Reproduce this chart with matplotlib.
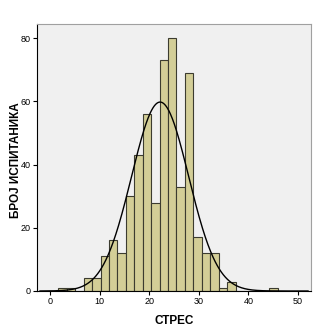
import numpy as np
from matplotlib import pyplot as plt

# histogram data
bin_start = 1.7
bin_width = 1.7
counts = [1, 1, 0, 4, 4, 11, 16, 12, 30, 43, 56, 28, 73, 80, 33, 69, 17, 12, 12, 1, 3, 0, 0, 0, 0, 1]
mean = 22.2
sd = 5.75
x_ticks = [0, 10, 20, 30, 40, 50]
y_ticks = [0, 20, 40, 60, 80]

plt.rcParams['font.family'] = ['Liberation Sans Narrow', 'Liberation Sans', 'DejaVu Sans']

fig = plt.figure(figsize=(3.34, 3.34), dpi=100)
ax = fig.add_axes([37/334, 43/334, 274/334, 267/334])
ax.set_facecolor('#f0f0f0')

edges = bin_start + bin_width * np.arange(len(counts) + 1)
ax.bar(edges[:-1], counts, width=bin_width, align='edge',
       color='#d3ce97', edgecolor='#3c3c30', linewidth=0.8)

# normal curve scaled to counts
n = sum(counts)
xs = np.linspace(-2, 52, 400)
ys = n * bin_width / (sd * np.sqrt(2 * np.pi)) * np.exp(-0.5 * ((xs - mean) / sd) ** 2)
ax.plot(xs, ys, color='black', linewidth=1)

ax.set_xlim(-2.6, 52.6)
ax.set_ylim(0, 84.5)
ax.set_xticks(x_ticks)
ax.set_yticks(y_ticks)
ax.tick_params(labelsize=6.5, length=3, width=0.8, pad=1.5, colors='black')

for s in ['top', 'right']:
    ax.spines[s].set_color('#a0a0a0')
    ax.spines[s].set_linewidth(0.8)
for s in ['left', 'bottom']:
    ax.spines[s].set_color('black')
    ax.spines[s].set_linewidth(0.8)

ax.set_xlabel('СТРЕС', fontsize=8.5, fontweight='bold', family=['Liberation Sans', 'DejaVu Sans'])
ax.set_ylabel('БРОЈ ИСПИТАНИКА', fontsize=8.5, fontweight='bold', family=['Liberation Sans', 'DejaVu Sans'])
ax.yaxis.set_label_coords(-0.076, 0.49)
ax.xaxis.set_label_coords(0.5, -0.112)
ax.xaxis.label.set_va('center')
ax.yaxis.label.set_va('center')

fig.savefig('out.png', dpi=100)
